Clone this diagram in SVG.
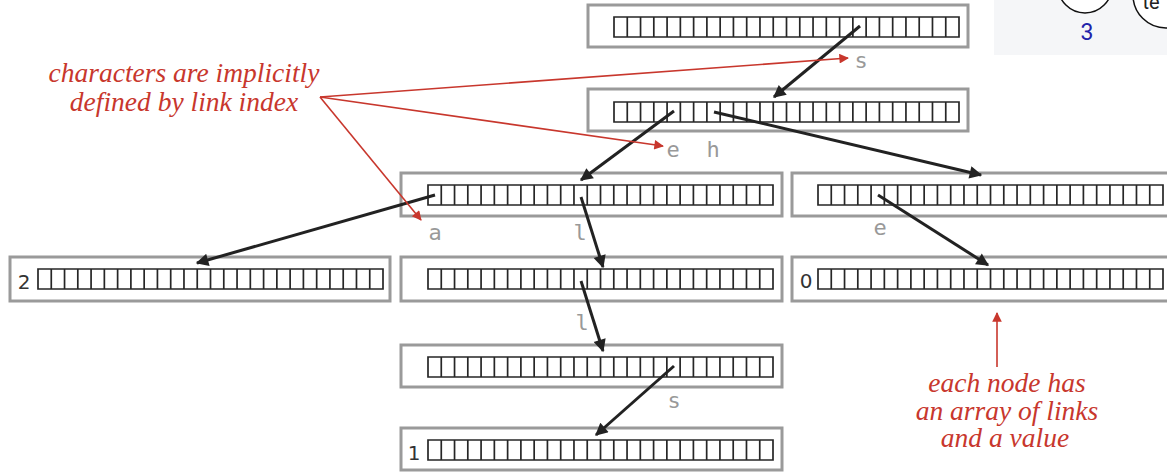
<svg xmlns="http://www.w3.org/2000/svg" xmlns:xlink="http://www.w3.org/1999/xlink" width="1167" height="472" viewBox="0 0 1167 472">
  <style>
    .frame { fill: #ffffff; stroke: #9a9a9a; stroke-width: 3; }
    .cells { fill: #ffffff; stroke: #262626; stroke-width: 1.7; }
    .link { stroke: #222222; stroke-width: 3; fill: none; marker-end: url(#blackHead); }
    .note { stroke: #c8372d; stroke-width: 1.6; fill: none; marker-end: url(#redHead); }
    .ch { font-family: "DejaVu Sans Mono", "Liberation Mono", monospace; font-size: 22px; fill: #999999; text-anchor: middle; }
    .val { font-family: "DejaVu Sans", "Liberation Sans", sans-serif; font-size: 20px; fill: #333333; text-anchor: middle; }
    .cap { font-family: "Liberation Serif", serif; font-style: italic; font-size: 27.5px; fill: #c8372d; text-anchor: middle; }
  </style>
  <defs>
    <marker id="blackHead" viewBox="0 0 10 10" refX="9" refY="5" markerWidth="5.5" markerHeight="4.2" markerUnits="strokeWidth" orient="auto">
      <path d="M0,0 L10,5 L0,10 Z" fill="#222222"/>
    </marker>
    <marker id="redHead" viewBox="0 0 10 10" refX="9" refY="5" markerWidth="8" markerHeight="6" markerUnits="strokeWidth" orient="auto">
      <path d="M0,0 L10,5 L0,10 Z" fill="#c8372d"/>
    </marker>
    <!-- array of 26 links, one cell per character -->
    <path id="cells" class="cells" d="M0,0 H345 V20 H0 Z
      M13.27,0 V20 M26.54,0 V20 M39.81,0 V20 M53.08,0 V20 M66.35,0 V20 M79.62,0 V20
      M92.89,0 V20 M106.16,0 V20 M119.43,0 V20 M132.7,0 V20 M145.97,0 V20 M159.24,0 V20
      M172.51,0 V20 M185.78,0 V20 M199.05,0 V20 M212.32,0 V20 M225.59,0 V20 M238.86,0 V20
      M252.13,0 V20 M265.4,0 V20 M278.67,0 V20 M291.94,0 V20 M305.21,0 V20 M318.48,0 V20
      M331.75,0 V20"/>
  </defs>

  <!-- corner panel -->
  <g id="corner">
    <rect x="994" y="0" width="173" height="55" fill="#f5f6f8"/>
    <circle cx="1085" cy="-14" r="27" fill="#ffffff" stroke="#111111" stroke-width="1.5"/>
    <circle cx="1166" cy="-5" r="33" fill="#ffffff" stroke="#111111" stroke-width="1.5"/>
    <text x="1151" y="9" font-family="Roboto, 'Liberation Sans', sans-serif" font-size="20" fill="#222222" text-anchor="middle">te</text>
    <text x="1087" y="40" font-family="Roboto, 'Liberation Sans', sans-serif" font-size="23" fill="#2222aa" text-anchor="middle">3</text>
  </g>

  <!-- trie nodes -->
  <g id="node-root">
    <rect class="frame" x="588" y="5" width="380" height="42"/>
    <use xlink:href="#cells" x="614" y="17"/>
  </g>
  <g id="node-s">
    <rect class="frame" x="588" y="89" width="380" height="42"/>
    <use xlink:href="#cells" x="614" y="102"/>
  </g>
  <g id="node-se">
    <rect class="frame" x="401" y="173" width="381" height="43"/>
    <use xlink:href="#cells" x="428" y="185"/>
  </g>
  <g id="node-sh">
    <rect class="frame" x="792" y="173" width="381" height="43"/>
    <use xlink:href="#cells" x="818" y="185"/>
  </g>
  <g id="node-sea">
    <rect class="frame" x="10" y="257" width="380" height="44"/>
    <use xlink:href="#cells" x="38" y="269"/>
    <text class="val" x="24" y="289">2</text>
  </g>
  <g id="node-sel">
    <rect class="frame" x="401" y="257" width="381" height="44"/>
    <use xlink:href="#cells" x="428" y="269"/>
  </g>
  <g id="node-she">
    <rect class="frame" x="792" y="257" width="381" height="44"/>
    <use xlink:href="#cells" x="818" y="269"/>
    <text class="val" x="806" y="288" font-size="17">0</text>
  </g>
  <g id="node-sell">
    <rect class="frame" x="401" y="345" width="381" height="42"/>
    <use xlink:href="#cells" x="428" y="357"/>
  </g>
  <g id="node-sells">
    <rect class="frame" x="401" y="428" width="381" height="42"/>
    <use xlink:href="#cells" x="428" y="440"/>
    <text class="val" x="414" y="460">1</text>
  </g>

  <!-- links between nodes -->
  <g id="links">
    <line class="link" x1="860" y1="26" x2="774" y2="97"/>
    <line class="link" x1="674" y1="111" x2="581" y2="180"/>
    <line class="link" x1="714" y1="112" x2="981" y2="175"/>
    <line class="link" x1="435" y1="195" x2="197" y2="263"/>
    <line class="link" x1="581" y1="197" x2="603" y2="267"/>
    <line class="link" x1="878" y1="195" x2="988" y2="265"/>
    <line class="link" x1="581" y1="281" x2="603" y2="351"/>
    <line class="link" x1="674" y1="366" x2="596" y2="435"/>
  </g>

  <!-- link characters -->
  <g id="link-chars">
    <text class="ch" x="861" y="68">s</text>
    <text class="ch" x="673" y="157">e</text>
    <text class="ch" x="713" y="157">h</text>
    <text class="ch" x="435" y="240">a</text>
    <text class="ch" x="580" y="240">l</text>
    <text class="ch" x="880" y="235">e</text>
    <text class="ch" x="582" y="330">l</text>
    <text class="ch" x="674" y="408">s</text>
  </g>

  <!-- annotations -->
  <g id="note-chars">
    <text class="cap" x="184" y="82">characters are implicitly</text>
    <text class="cap" x="184" y="111">defined by link index</text>
    <line class="note" x1="320" y1="97" x2="848" y2="58"/>
    <line class="note" x1="320" y1="97" x2="663" y2="146"/>
    <line class="note" x1="320" y1="97" x2="421" y2="220"/>
  </g>
  <g id="note-node">
    <line class="note" x1="997" y1="367" x2="997" y2="313"/>
    <text class="cap" x="1007" y="392">each node has</text>
    <text class="cap" x="1007" y="420">an array of links</text>
    <text class="cap" x="1005" y="447">and a value</text>
  </g>
</svg>
